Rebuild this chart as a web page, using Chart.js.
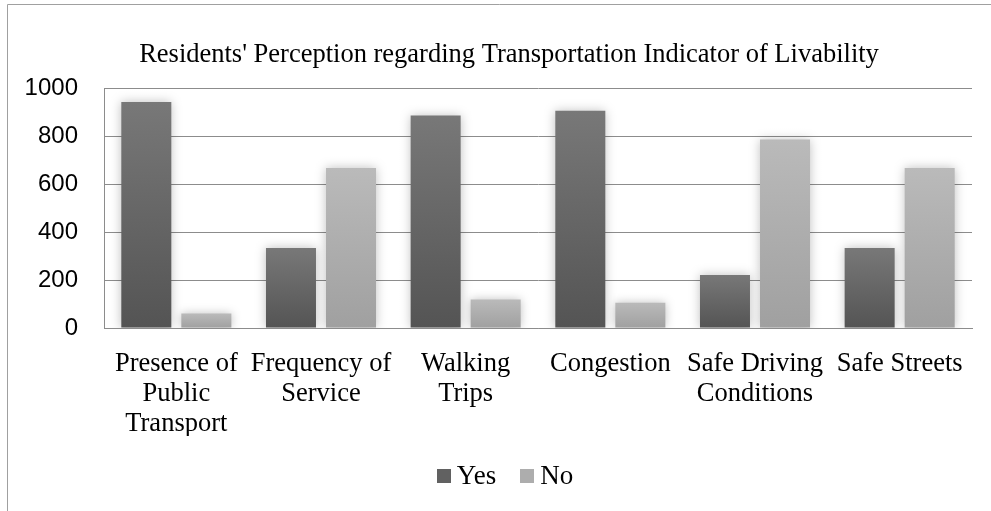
<!DOCTYPE html>
<html>
<head>
<meta charset="utf-8">
<script src="https://cdn.jsdelivr.net/npm/chart.js@4.4.1/dist/chart.umd.min.js"></script>
<style>
  html, body { margin: 0; padding: 0; background: #ffffff; }
  #wrap { width: 991px; height: 511px; position: relative; }
</style>
</head>
<body>
<div id="wrap"><canvas id="c" width="991" height="511"></canvas></div>
<script>
const categories = [
  ["Presence of", "Public", "Transport"],
  ["Frequency of", "Service"],
  ["Walking", "Trips"],
  "Congestion",
  ["Safe Driving", "Conditions"],
  "Safe Streets"
];
const seriesNames = ["Yes", "No"];
const yesValues = [942, 333, 885, 905, 221, 333];
const noValues = [60, 667, 119, 105, 785, 667];
const yTicks = [0, 200, 400, 600, 800, 1000];
const titleText = "Residents' Perception regarding Transportation Indicator of Livability";

const SERIF = "'Liberation Serif', 'Times New Roman', serif";
const SANS = "'Liberation Sans', Arial, sans-serif";
const legendSwatches = ['#616161', '#adadad'];

function barGradient(top, bottom) {
  return function (context) {
    const chart = context.chart;
    if (!chart.chartArea || context.type !== 'data') return top;
    const y = chart.scales.y;
    const yTop = y.getPixelForValue(context.raw);
    const yBot = y.getPixelForValue(0);
    if (!isFinite(yTop) || !isFinite(yBot) || yTop === yBot) return top;
    const g = chart.ctx.createLinearGradient(0, yTop, 0, yBot);
    g.addColorStop(0, top);
    g.addColorStop(1, bottom);
    return g;
  };
}

const framePlugin = {
  id: 'frame',
  beforeDraw(chart) {
    const c = chart.ctx;
    c.save();
    c.fillStyle = '#ffffff';
    c.fillRect(0, 0, chart.width, chart.height);
    c.strokeStyle = '#a0a0a0';
    c.lineWidth = 1;
    c.beginPath();
    c.moveTo(7.5, chart.height);
    c.lineTo(7.5, 4.5);
    c.lineTo(chart.width, 4.5);
    c.stroke();
    c.restore();
  }
};

const shadowPlugin = {
  id: 'barShadow',
  beforeDatasetDraw(chart) {
    const c = chart.ctx;
    c.save();
    c.shadowColor = 'rgba(0,0,0,0.25)';
    c.shadowBlur = 10;
    c.shadowOffsetX = 0;
    c.shadowOffsetY = 0;
  },
  afterDatasetDraw(chart) {
    chart.ctx.restore();
  }
};

// Title and compact legend drawn as real canvas text in the reserved padding
const textPlugin = {
  id: 'titleAndLegend',
  afterDraw(chart) {
    const c = chart.ctx;
    c.save();
    c.font = '26.5px ' + SERIF;
    c.fillStyle = '#000000';
    c.textAlign = 'center';
    c.textBaseline = 'middle';
    c.fillText(titleText, 509, 55);
    c.font = '27px ' + SERIF;
    c.textAlign = 'left';
    const box = 14, gapBoxText = 6, gapItems = 24;
    const items = chart.data.datasets.map((ds, i) => ({
      text: ds.label, color: legendSwatches[i], w: c.measureText(ds.label).width
    }));
    let total = 0;
    items.forEach((it, i) => { total += box + gapBoxText + it.w + (i < items.length - 1 ? gapItems : 0); });
    const centerX = 505, centerY = 476;
    let x = centerX - total / 2;
    items.forEach(it => {
      c.fillStyle = it.color;
      c.fillRect(Math.round(x), centerY - 7, box, box);
      c.fillStyle = '#000000';
      c.fillText(it.text, x + box + gapBoxText, centerY + 1);
      x += box + gapBoxText + it.w + gapItems;
    });
    c.restore();
  }
};

new Chart(document.getElementById('c'), {
  type: 'bar',
  data: {
    labels: categories,
    datasets: [
      { label: seriesNames[0], data: yesValues, backgroundColor: barGradient('#787878', '#545454'), borderWidth: 0 },
      { label: seriesNames[1], data: noValues, backgroundColor: barGradient('#bababa', '#a0a0a0'), borderWidth: 0 }
    ]
  },
  plugins: [framePlugin, shadowPlugin, textPlugin],
  options: {
    responsive: false,
    devicePixelRatio: 1,
    animation: false,
    events: [],
    layout: { padding: { left: 0, right: 19, top: 88, bottom: 75 } },
    datasets: {
      bar: { categoryPercentage: 0.83, barPercentage: 0.833 }
    },
    plugins: {
      title: { display: false },
      legend: { display: false },
      tooltip: { enabled: false }
    },
    scales: {
      x: {
        afterFit(scale) { scale.height = 108; },
        grid: { display: false, drawTicks: false },
        border: { display: true, color: '#8c8c8c' },
        ticks: {
          color: '#000000',
          font: { family: SERIF, size: 26.5, lineHeight: 1.13 },
          padding: 21,
          maxRotation: 0,
          autoSkip: false
        }
      },
      y: {
        min: 0,
        max: 1000,
        afterBuildTicks(scale) { scale.ticks = yTicks.map(v => ({ value: v })); },
        afterFit(scale) { scale.width = 104; },
        grid: { color: '#8c8c8c', drawTicks: false },
        border: { display: true, color: '#8c8c8c' },
        ticks: {
          color: '#000000',
          font: { family: SANS, size: 24 },
          padding: 26,
          callback: (v) => String(v)
        }
      }
    }
  }
});
</script>
</body>
</html>
